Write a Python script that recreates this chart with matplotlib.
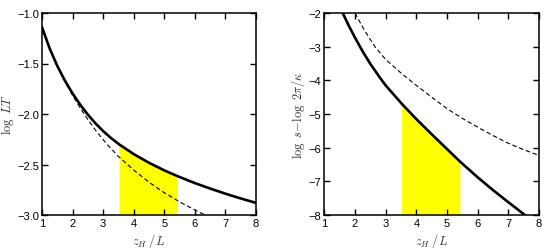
import matplotlib
matplotlib.use("Agg")
import matplotlib.pyplot as plt
import numpy as np

# ---- data ----
# left panel: log LT vs z_H/L
left_solid_x = [1.0, 1.25, 1.5, 1.75, 2.0, 2.25, 2.5, 2.75, 3.0, 3.25, 3.52, 4.0, 4.5, 5.0, 5.42, 6.0, 6.5, 7.0, 7.5, 8.0]
left_solid_y = [-1.14, -1.351, -1.524, -1.670, -1.797, -1.908, -2.006, -2.093, -2.169, -2.236, -2.300, -2.397, -2.483, -2.558, -2.614, -2.684, -2.738, -2.789, -2.836, -2.880]
left_dash_x = [1.6, 1.75, 2.0, 2.25, 2.5, 2.75, 3.0, 3.25, 3.5, 4.0, 4.5, 5.0, 5.5, 6.0, 6.4]
left_dash_y = [-1.585, -1.675, -1.815, -1.94, -2.055, -2.16, -2.255, -2.34, -2.42, -2.555, -2.675, -2.78, -2.87, -2.95, -3.01]

# right panel: log s - log 2pi/kappa vs z_H/L
right_solid_x = [1.6, 1.8, 2.0, 2.25, 2.5, 2.82, 3.0, 3.52, 4.0, 4.5, 5.0, 5.42, 6.0, 6.5, 7.0, 7.54]
right_solid_y = [-2.0, -2.38, -2.73, -3.14, -3.51, -3.93, -4.15, -4.69, -5.15, -5.6, -6.04, -6.41, -6.88, -7.26, -7.62, -8.0]
right_dash_x = [2.0, 2.3, 2.65, 3.0, 3.5, 4.0, 4.5, 5.0, 5.5, 6.0, 6.5, 7.0, 7.5, 8.0]
right_dash_y = [-2.0, -2.5, -3.0, -3.38, -3.78, -4.15, -4.5, -4.84, -5.13, -5.39, -5.64, -5.87, -6.06, -6.23]

band_lo, band_hi = 3.52, 5.42

left_yticks = [-3.0, -2.5, -2.0, -1.5, -1.0]
right_yticks = [-8, -7, -6, -5, -4, -3, -2]
xticks = [1, 2, 3, 4, 5, 6, 7, 8]

plt.rcParams['font.family'] = ['Liberation Sans', 'DejaVu Sans']
plt.rcParams['mathtext.fontset'] = 'cm'

fig = plt.figure(figsize=(5.5, 2.51), dpi=100)
axL = fig.add_axes([42/550, 35/251, 214/550, 202/251])
axR = fig.add_axes([324.3/550, 35/251, 214.7/550, 202/251])

def band(xs, ys):
    xs = np.asarray(xs); ys = np.asarray(ys)
    m = (xs >= band_lo - 1e-9) & (xs <= band_hi + 1e-9)
    return xs[m], ys[m]

for ax, sx, sy, dx, dy, ylim, yt, ylab, fmt in [
    (axL, left_solid_x, left_solid_y, left_dash_x, left_dash_y, (-3.0, -1.0), left_yticks,
     r'$\log\ LT$', '{:.1f}'),
    (axR, right_solid_x, right_solid_y, right_dash_x, right_dash_y, (-8, -2), right_yticks,
     r'$\log\ s\!-\!\log\ 2\pi/\kappa$', '{:d}'),
]:
    bx, by = band(sx, sy)
    ax.fill_between(bx, ylim[0], by, color='#ffff00', lw=0, zorder=1)
    ax.plot(dx, dy, color='black', lw=0.8, dashes=(4, 2.5), zorder=2)
    ax.plot(sx, sy, color='black', lw=1.9, zorder=3, solid_joinstyle='round')
    ax.set_xlim(1, 8)
    ax.set_ylim(*ylim)
    ax.set_xticks(xticks)
    ax.set_xticklabels([str(v) for v in xticks])
    ax.set_yticks(yt)
    ax.set_yticklabels([fmt.format(v).replace('-', '\u2212') for v in yt])
    ax.tick_params(direction='in', top=True, right=True, length=4, width=1.0,
                   labelsize=8, pad=2)
    for s in ax.spines.values():
        s.set_linewidth(1.1)
    ax.set_xlabel(r'$z_H\;/L$', fontsize=9, color='#333333', labelpad=2)
    ax.set_ylabel(ylab, fontsize=9, color='#333333', labelpad=1)

fig.savefig('out.png', dpi=100)
